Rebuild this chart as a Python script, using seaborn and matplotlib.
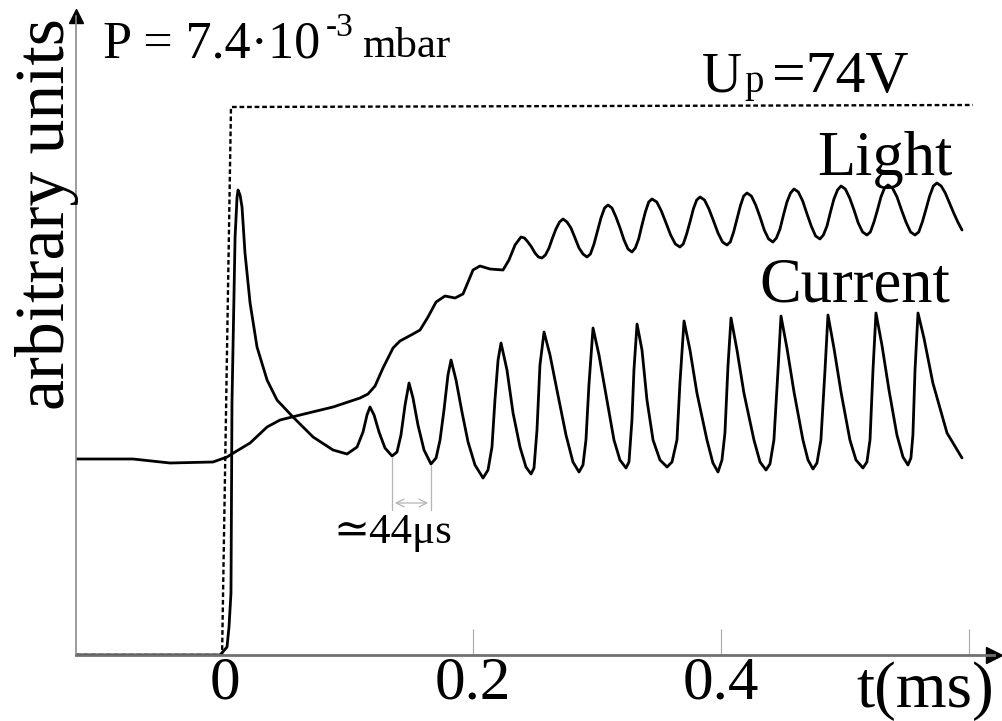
import numpy as np
import pandas as pd
import matplotlib
matplotlib.use("Agg")
import matplotlib.pyplot as plt
import seaborn as sns

# ---------------- data (time in microseconds, signal in arbitrary units) ----------------
current_t_us = [-120.2, -4.0, 1.6, 3.2, 4.8, 5.6, 8.1, 9.7, 10.5, 12.1, 13.7, 16.1, 20.2, 25.8, 33.9, 41.9, 54.8, 71.0, 87.1, 98.4,
                106.5, 111.3, 114.5, 116.9, 120.2, 124.2, 129.0, 134.7,
                138.7, 141.9, 145.2, 148.4, 151.6, 155.6, 160.5, 166.1,
                170.2, 173.4, 176.6, 179.8, 182.3, 186.3, 191.1, 196.0, 201.6, 208.1,
                212.1, 215.3, 217.7, 220.2, 222.6, 227.4, 232.3, 237.9, 242.7, 246.8,
                249.2, 251.6, 254.0, 257.3, 262.1, 267.7, 275.0, 280.6, 285.5,
                288.7, 291.1, 293.5, 296.8, 301.6, 307.3, 313.7, 318.5, 323.4,
                325.8, 328.2, 329.8, 332.3, 336.3, 340.3, 345.2, 350.8, 356.5,
                360.5, 364.5, 366.9, 370.2, 375.0, 380.6, 388.7, 393.5, 397.6,
                400.8, 403.2, 405.6, 408.1, 412.9, 418.5, 426.6, 431.5, 436.3,
                439.5, 442.7, 446.0, 448.4, 453.2, 458.9, 466.1, 470.2, 474.2,
                477.4, 480.6, 483.9, 486.3, 491.1, 496.8, 504.0, 508.9, 514.5,
                517.7, 520.2, 522.6, 525.0, 529.8, 535.5, 541.9, 546.8, 550.8,
                553.2, 554.8, 556.5, 558.9, 563.7, 570.9, 582.3, 594.4]
current_val = [0.00, 0.00, 0.08, 0.28, 0.62, 2.52, 4.18, 4.58, 4.65, 4.60, 4.48, 4.02, 3.52, 3.08, 2.75, 2.55, 2.38, 2.18, 2.05, 2.01,
               2.08, 2.23, 2.40, 2.48, 2.40, 2.23, 2.07, 1.99,
               2.03, 2.20, 2.50, 2.72, 2.57, 2.30, 2.05, 1.91,
               1.97, 2.15, 2.45, 2.80, 2.95, 2.75, 2.43, 2.13, 1.90, 1.77,
               1.85, 2.08, 2.55, 2.95, 3.12, 2.85, 2.42, 2.08, 1.88, 1.81,
               1.87, 2.25, 2.90, 3.23, 3.00, 2.65, 2.20, 1.93, 1.83,
               1.90, 2.15, 2.70, 3.27, 3.00, 2.60, 2.15, 1.95, 1.87,
               1.93, 2.35, 2.85, 3.31, 3.05, 2.55, 2.15, 1.95, 1.88,
               1.93, 2.15, 2.72, 3.34, 3.05, 2.62, 2.15, 1.92, 1.83,
               1.95, 2.22, 2.88, 3.37, 3.05, 2.62, 2.15, 1.93, 1.85,
               1.91, 2.15, 2.85, 3.39, 3.07, 2.63, 2.15, 1.95, 1.86,
               1.92, 2.15, 2.85, 3.40, 3.07, 2.63, 2.15, 1.95, 1.87,
               1.93, 2.15, 2.85, 3.42, 3.10, 2.65, 2.20, 1.98, 1.90,
               1.97, 2.20, 2.85, 3.42, 3.17, 2.72, 2.22, 1.97]

light_t_us = [-120.2, -74.2, -44.4, -9.7, 1.6, 8.1, 20.2, 33.9, 44.4, 60.5, 87.1, 108.9,
              115.3, 121.0, 127.4, 135.5, 141.1, 151.6, 157.3, 163.7, 170.2, 177.4, 185.5,
              191.9, 196.0, 200.0, 205.6, 213.7, 224.2, 229.0, 233.9, 238.7,
              241.5, 244.3, 247.2, 250.0, 252.8, 255.6,
              258.4, 261.3, 264.1, 266.9, 269.8, 272.6,
              275.8, 279.0, 282.3, 285.5, 288.7, 291.9,
              294.7, 297.6, 300.4, 303.2, 306.1, 308.9,
              312.1, 315.3, 318.6, 321.8, 325.0, 328.2,
              330.9, 333.6, 336.3, 339.0, 341.7, 344.4,
              348.2, 351.9, 355.7, 359.4, 363.2, 366.9,
              369.6, 372.3, 375.0, 377.7, 380.4, 383.1,
              386.7, 390.3, 394.0, 397.6, 401.2, 404.8,
              407.5, 410.2, 412.9, 415.6, 418.3, 421.0,
              424.5, 428.0, 431.5, 434.9, 438.4, 441.9,
              444.7, 447.6, 450.4, 453.2, 456.1, 458.9,
              462.4, 465.9, 469.4, 472.8, 476.3, 479.8,
              482.6, 485.5, 488.3, 491.1, 494.0, 496.8,
              500.3, 503.8, 507.3, 510.7, 514.2, 517.7,
              520.5, 523.4, 526.2, 529.0, 531.9, 534.7,
              538.3, 542.0, 545.6, 549.2, 552.9, 556.5,
              559.5, 562.4, 565.4, 568.3, 571.3, 574.2,
              577.6, 580.9, 584.3, 587.7, 591.0, 594.4]
light_val = [1.96, 1.96, 1.92, 1.93, 1.98, 2.03, 2.12, 2.28, 2.35, 2.40, 2.48, 2.57,
             2.61, 2.69, 2.87, 3.07, 3.14, 3.21, 3.25, 3.38, 3.53, 3.59, 3.57,
             3.61, 3.73, 3.85, 3.89, 3.86, 3.85, 3.95, 4.10, 4.18,
             4.17, 4.13, 4.08, 4.02, 3.98, 3.97,
             4.00, 4.07, 4.17, 4.26, 4.33, 4.36,
             4.33, 4.27, 4.17, 4.07, 4.01, 3.98,
             4.01, 4.11, 4.24, 4.37, 4.47, 4.50,
             4.47, 4.38, 4.27, 4.15, 4.06, 4.03,
             4.07, 4.16, 4.30, 4.43, 4.53, 4.56,
             4.53, 4.44, 4.32, 4.20, 4.11, 4.08,
             4.11, 4.21, 4.33, 4.46, 4.55, 4.58,
             4.55, 4.46, 4.34, 4.22, 4.13, 4.10,
             4.13, 4.23, 4.36, 4.49, 4.59, 4.62,
             4.59, 4.50, 4.38, 4.25, 4.16, 4.13,
             4.17, 4.26, 4.40, 4.53, 4.62, 4.66,
             4.63, 4.54, 4.41, 4.29, 4.19, 4.16,
             4.20, 4.29, 4.43, 4.56, 4.65, 4.69,
             4.66, 4.57, 4.45, 4.32, 4.23, 4.20,
             4.23, 4.33, 4.45, 4.58, 4.67, 4.70,
             4.67, 4.58, 4.45, 4.33, 4.23, 4.20,
             4.23, 4.33, 4.46, 4.59, 4.69, 4.72,
             4.69, 4.62, 4.52, 4.42, 4.33, 4.25]

voltage_t_us = [-120.2, -2.4, 4.8, 603.2]
voltage_val = [0.0, 0.0, 5.48, 5.50]

x_ticks = [0, 0.2, 0.4, 0.6]
x_tick_labels = ["0", "0.2", "0.4", ""]

# period annotation: two successive current minima
period_minima_us = [134.7, 166.1]
period_minima_val = [1.99, 1.91]

# ---------------- figure ----------------
sns.set_theme(style="white")
plt.rcParams["font.family"] = ["Liberation Serif", "DejaVu Serif"]
plt.rcParams["text.color"] = "black"

W, H = 1002, 721
fig = plt.figure(figsize=(W / 100, H / 100), dpi=100)
ax = fig.add_axes([76 / W, 66 / H, 918 / W, 639 / H])

def frame(t_us, v, name):
    return pd.DataFrame({"t": np.asarray(t_us) / 1000.0, "v": v, "s": name})

cur = frame(current_t_us, current_val, "Current")
lig = frame(light_t_us, light_val, "Light")
vol = frame(voltage_t_us, voltage_val, "U")

sns.lineplot(data=vol, x="t", y="v", sort=False, estimator=None, color="black",
             lw=1.7, linestyle=(0, (2.0, 1.2)), ax=ax)
sns.lineplot(data=lig, x="t", y="v", sort=False, estimator=None, color="black",
             lw=2.0, ax=ax, solid_joinstyle="round")
sns.lineplot(data=cur, x="t", y="v", sort=False, estimator=None, color="black",
             lw=2.0, ax=ax, solid_joinstyle="round")

ax.set_xlim(-0.1202, 0.6202)
ax.set_ylim(0, 6.39)
ax.set_xlabel("")
ax.set_ylabel("")
ax.set_yticks([])
ax.set_xticks(x_ticks)
ax.set_xticklabels(x_tick_labels, fontsize=44)
ax.tick_params(axis="x", direction="in", length=19, width=0.8, color="#a8a8a8",
               labelcolor="black", pad=1, bottom=True)
ax.xaxis.get_major_ticks()[0].tick1line.set_visible(False)

for s in ["top", "right"]:
    ax.spines[s].set_visible(False)
ax.spines["left"].set_color("#8a8a8a")
ax.spines["left"].set_linewidth(1.2)
ax.spines["bottom"].set_color("#707070")
ax.spines["bottom"].set_linewidth(2.0)
ax.plot([1], [0], marker=">", ms=11, color="black", transform=ax.transAxes, clip_on=False)
ax.plot([0], [1], marker="^", ms=10, color="black", transform=ax.transAxes, clip_on=False)

# period marker
g = "#b4b4b4"
pt = np.asarray(period_minima_us) / 1000.0
for t0, v0 in zip(pt, period_minima_val):
    ax.plot([t0, t0], [v0 - 0.02, 1.45], color=g, lw=0.9)
ax.annotate("", xy=(pt[0], 1.52), xytext=(pt[1], 1.52),
            arrowprops=dict(arrowstyle="<->", color=g, lw=0.9, mutation_scale=14))

def fp(x, y):
    return x / W, 1 - y / H

fig.text(*fp(47, 214), "arbitrary units", rotation=90, fontsize=50, ha="center", va="center")
fig.text(*fp(856, 707), "t(ms)", fontsize=47, ha="left", va="baseline")
fig.text(*fp(103, 57), "P = 7.4\u00b710", fontsize=37.5, ha="left", va="baseline")
fig.text(*fp(326, 36), "-3", fontsize=24, ha="left", va="baseline")
fig.text(*fp(362, 57), "mbar", fontsize=31, ha="left", va="baseline")
fig.text(*fp(702, 92), "U", fontsize=40, ha="left", va="baseline")
fig.text(*fp(744, 92), "p", fontsize=28, ha="left", va="baseline")
fig.text(*fp(772, 92), "=74V", fontsize=43, ha="left", va="baseline")
fig.text(*fp(953, 175), "Light", fontsize=45, ha="right", va="baseline")
fig.text(*fp(950, 302), "Current", fontsize=45, ha="right", va="baseline")
fig.text(*fp(333, 543), "\u224344\u03bcs", fontsize=31, ha="left", va="baseline")

fig.savefig("out.png", dpi=100)
